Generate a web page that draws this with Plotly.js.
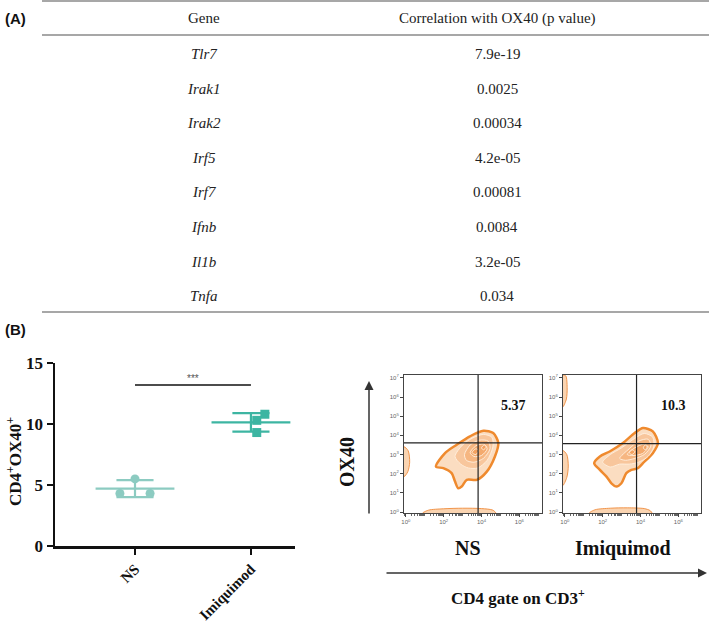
<!DOCTYPE html>
<html><head><meta charset="utf-8">
<script src="https://cdn.plot.ly/plotly-3.0.1.min.js"></script>
<style>html,body{margin:0;padding:0;background:#fff}#chart{width:709px;height:627px}</style>
</head><body><div id="chart"></div>
<script>
// ---------- Panel A table data ----------
const tableHeader = ['Gene', 'Correlation with OX40 (p value)'];
const genes = ['Tlr7', 'Irak1', 'Irak2', 'Irf5', 'Irf7', 'Ifnb', 'Il1b', 'Tnfa'];
const pvalues = ['7.9e-19', '0.0025', '0.00034', '4.2e-05', '0.00081', '0.0084', '3.2e-05', '0.034'];

// ---------- Panel B dot plot data ----------
const groups = ['NS', 'Imiquimod'];
const nsValues = [5.5, 4.3, 4.3];
const imqValues = [10.8, 10.3, 9.3];
const sigLabel = '***';
const sigLevel = 13.2;

// ---------- Flow plots (log10 exponents) ----------
const flowLabels = ['NS', 'Imiquimod'];
const flowPercents = ['5.37', '10.3'];
const gateX = [3.82, 3.79];
const gateY = [3.61, 3.57];
// NS panel contours
const nsOuterX = [1.59, 2.07, 2.69, 3.39, 4.10, 4.62, 4.89, 4.71, 4.28, 3.75, 3.22, 2.95, 2.77, 2.60, 2.42, 1.98, 1.59];
const nsOuterY = [2.37, 3.08, 3.51, 3.95, 4.24, 4.12, 3.60, 2.90, 2.11, 1.68, 1.68, 1.33, 1.24, 1.59, 2.03, 2.29, 2.37];
const nsLoopAX = [2.6, 3.0, 3.5, 4.1, 4.55, 4.6, 4.3, 3.8, 3.3, 2.9, 2.6];
const nsLoopAY = [2.9, 3.5, 3.85, 4.05, 3.9, 3.4, 2.7, 2.3, 2.3, 2.5, 2.9];
const nsLoopBX = [3.1, 3.4, 3.9, 4.35, 4.45, 4.1, 3.6, 3.2, 3.1];
const nsLoopBY = [3.0, 3.5, 3.75, 3.7, 3.3, 2.8, 2.6, 2.7, 3.0];
const nsLoopCX = [3.4, 3.7, 4.1, 4.3, 4.0, 3.6, 3.4];
const nsLoopCY = [3.1, 3.45, 3.55, 3.3, 2.95, 2.9, 3.1];
const nsLoopDX = [3.5, 3.7, 3.85, 3.7, 3.5];
const nsLoopDY = [3.1, 3.3, 3.2, 3.0, 3.1];
const nsLoopEX = [4.0, 4.15, 4.25, 4.1, 4.0];
const nsLoopEY = [3.35, 3.5, 3.4, 3.25, 3.35];
const nsBottomX = [0.9, 1.2, 2.0, 3.0, 4.0, 4.6, 4.75, 0.9];
const nsBottomY = [-0.05, 0.1, 0.17, 0.2, 0.18, 0.1, -0.05, -0.05];
const nsLeftX = [-0.1, 0.1, 0.2, 0.12, -0.1, -0.1];
const nsLeftY = [1.85, 2.1, 2.6, 3.2, 3.4, 1.85];
// Imiquimod panel contours
const imqOuterX = [1.55, 1.85, 2.37, 3.07, 3.69, 4.13, 4.65, 4.92, 4.65, 4.13, 3.86, 3.52, 3.25, 2.99, 2.73, 2.46, 2.20, 1.85, 1.55];
const imqOuterY = [2.55, 2.90, 3.16, 3.60, 4.12, 4.38, 4.21, 3.60, 3.07, 2.55, 2.29, 2.20, 2.03, 1.50, 1.33, 1.50, 1.85, 2.20, 2.55];
const imqLoopAX = [2.0, 2.4, 3.0, 3.7, 4.2, 4.65, 4.7, 4.4, 3.9, 3.4, 2.9, 2.4, 2.0];
const imqLoopAY = [2.6, 3.0, 3.35, 3.85, 4.1, 3.9, 3.4, 2.9, 2.6, 2.5, 2.5, 2.35, 2.6];
const imqLoopBX = [2.9, 3.4, 3.9, 4.4, 4.55, 4.2, 3.7, 3.2, 2.9];
const imqLoopBY = [2.8, 3.3, 3.7, 3.8, 3.45, 3.0, 2.8, 2.7, 2.8];
const imqLoopCX = [3.3, 3.7, 4.2, 4.4, 4.1, 3.6, 3.3];
const imqLoopCY = [3.0, 3.35, 3.55, 3.4, 3.05, 2.95, 3.0];
const imqLoopDX = [3.4, 3.55, 3.7, 3.55, 3.4];
const imqLoopDY = [3.1, 3.25, 3.15, 3.0, 3.1];
const imqLoopEX = [4.15, 4.25, 4.35, 4.25, 4.15];
const imqLoopEY = [3.35, 3.5, 3.4, 3.25, 3.35];
const imqBottomX = [1.3, 1.6, 2.4, 3.3, 4.2, 4.5, 4.6, 1.3];
const imqBottomY = [-0.05, 0.12, 0.2, 0.22, 0.18, 0.08, -0.05, -0.05];
const imqLeftTopX = [-0.1, 0.08, 0.12, 0.05, -0.1, -0.1];
const imqLeftTopY = [5.5, 5.9, 6.5, 7.1, 7.15, 5.5];
const imqLeftMidX = [-0.1, 0.1, 0.18, 0.1, -0.1, -0.1];
const imqLeftMidY = [1.4, 1.8, 2.4, 3.0, 3.2, 1.4];

// ---------- helpers ----------
const W = 709, H = 627;
const px = v => v / W;
const py = v => 1 - v / H;
const pow10 = arr => arr.map(v => Math.pow(10, v));
const serif = "'Liberation Serif', 'Times New Roman', serif";
const sans = "'Liberation Sans', Arial, sans-serif";
const ORANGE = '#ef8a2e';

const traces = [];
const annotations = [];
const shapes = [];
function label(x, y, text, font, extra) {
  annotations.push(Object.assign({xref:'paper', yref:'paper', x:px(x), y:py(y), xanchor:'center',
    yanchor:'middle', text:text, showarrow:false, font:font}, extra || {}));
}

// ----- Panel A table -----
label(3, 18, '<b>(A)</b>', {family:sans, size:15, color:'#111'}, {xanchor:'left'});
const colX = [204, 497];
const tableFont = {family:serif, size:15, color:'#222'};
tableHeader.forEach((h, i) => label(colX[i], 18, h, tableFont));
genes.forEach((g, i) => {
  const yy = 54 + i * 34.6;
  label(colX[0], yy, '<i>' + g + '</i>', tableFont);
  label(colX[1], yy, pvalues[i], tableFont);
});
[1, 35, 312].forEach(yy => shapes.push({type:'line', xref:'paper', yref:'paper',
  x0:px(42), x1:px(709), y0:py(yy), y1:py(yy), line:{color:'#8a8a8a', width:1.5}}));

// ----- Panel B dot plot -----
label(3, 329, '<b>(B)</b>', {family:sans, size:15, color:'#111'}, {xanchor:'left'});
const groupColors = ['#8ccbc1', '#3db5a2'];
const groupSymbols = ['circle', 'square'];
const jitter = [[0, -0.13, 0.13], [0.12, 0.05, 0.05]];
[nsValues, imqValues].forEach((vals, gi) => {
  const n = vals.length;
  const mean = vals.reduce((a, b) => a + b, 0) / n;
  const sd = Math.sqrt(vals.reduce((a, b) => a + (b - mean) * (b - mean), 0) / (n - 1));
  const c = groupColors[gi];
  traces.push({x:[gi - 0.34, gi + 0.34], y:[mean, mean], xaxis:'x', yaxis:'y', mode:'lines',
    line:{color:c, width:2.2}, hoverinfo:'skip'});
  traces.push({x:[gi, gi, null, gi - 0.16, gi + 0.16, null, gi - 0.16, gi + 0.16],
    y:[mean - sd, mean + sd, null, mean + sd, mean + sd, null, mean - sd, mean - sd],
    xaxis:'x', yaxis:'y', mode:'lines', line:{color:c, width:2.2}, hoverinfo:'skip'});
  traces.push({x:vals.map((v, i) => gi + jitter[gi][i]), y:vals, xaxis:'x', yaxis:'y', mode:'markers',
    marker:{color:c, size:9, symbol:groupSymbols[gi]}});
});
traces.push({x:[0, 1], y:[sigLevel, sigLevel], xaxis:'x', yaxis:'y', mode:'lines',
  line:{color:'#111', width:1.5}, hoverinfo:'skip'});
annotations.push({xref:'x', yref:'y', x:0.5, y:sigLevel, xanchor:'center', yanchor:'bottom', yshift:-1,
  text:sigLabel, showarrow:false, font:{family:sans, size:10, color:'#555'}});
label(14, 462, '<b>CD4<sup>+</sup>OX40<sup>+</sup></b>', {family:serif, size:17, color:'#111'}, {textangle:-90});

// ----- Flow panels -----
function addFlow(ax, ay, polys) {
  polys.forEach(p => traces.push({x:pow10(p.x), y:pow10(p.y), xaxis:ax, yaxis:ay, mode:'lines',
    fill:'toself', fillcolor:p.fill, line:{color:p.line, width:p.w, shape:'spline', smoothing:0.8},
    hoverinfo:'skip'}));
}
const outerStyle = {fill:'rgba(246,170,100,0.4)', line:ORANGE, w:2.5};
const midStyle = {fill:'rgba(240,140,60,0.28)', line:'rgba(255,238,220,0.95)', w:1};
const stripStyle = {fill:'rgba(246,170,100,0.5)', line:'rgba(240,140,60,0.9)', w:1};
addFlow('x2', 'y2', [
  Object.assign({x:nsOuterX, y:nsOuterY}, outerStyle),
  Object.assign({x:nsLoopAX, y:nsLoopAY}, midStyle),
  Object.assign({x:nsLoopBX, y:nsLoopBY}, midStyle),
  Object.assign({x:nsLoopCX, y:nsLoopCY}, midStyle),
  Object.assign({x:nsLoopDX, y:nsLoopDY}, midStyle),
  Object.assign({x:nsLoopEX, y:nsLoopEY}, midStyle),
  Object.assign({x:nsBottomX, y:nsBottomY}, stripStyle),
  Object.assign({x:nsLeftX, y:nsLeftY}, stripStyle)
]);
addFlow('x3', 'y3', [
  Object.assign({x:imqOuterX, y:imqOuterY}, outerStyle),
  Object.assign({x:imqLoopAX, y:imqLoopAY}, midStyle),
  Object.assign({x:imqLoopBX, y:imqLoopBY}, midStyle),
  Object.assign({x:imqLoopCX, y:imqLoopCY}, midStyle),
  Object.assign({x:imqLoopDX, y:imqLoopDY}, midStyle),
  Object.assign({x:imqLoopEX, y:imqLoopEY}, midStyle),
  Object.assign({x:imqBottomX, y:imqBottomY}, stripStyle),
  Object.assign({x:imqLeftTopX, y:imqLeftTopY}, stripStyle),
  Object.assign({x:imqLeftMidX, y:imqLeftMidY}, stripStyle)
]);
const axPairs = [['x2', 'y2'], ['x3', 'y3']];
axPairs.forEach((p, i) => {
  traces.push({x:pow10([gateX[i], gateX[i]]), y:pow10([-0.05, 7.15]), xaxis:p[0], yaxis:p[1], mode:'lines',
    line:{color:'#222', width:1.2}, hoverinfo:'skip'});
  traces.push({x:pow10([-0.1, 7.2]), y:pow10([gateY[i], gateY[i]]), xaxis:p[0], yaxis:p[1], mode:'lines',
    line:{color:'#222', width:1.2}, hoverinfo:'skip'});
});
const pctPos = [[513, 405], [673, 405]];
flowPercents.forEach((t, i) => label(pctPos[i][0], pctPos[i][1], '<b>' + t + '</b>',
  {family:serif, size:14, color:'#111'}));
const flowLabelX = [468, 623];
flowLabels.forEach((t, i) => label(flowLabelX[i], 548, '<b>' + t + '</b>', {family:serif, size:20, color:'#111'}));
label(347, 462, '<b>OX40</b>', {family:serif, size:20, color:'#111'}, {textangle:-90});
label(518, 597, '<b>CD4 gate on CD3<sup>+</sup></b>', {family:serif, size:17, color:'#111'});
annotations.push({xref:'paper', yref:'paper', axref:'pixel', ayref:'pixel', x:px(369), y:py(381), ax:0, ay:134,
  text:'', showarrow:true, arrowhead:2, arrowsize:1.2, arrowwidth:1.5, arrowcolor:'#333'});
annotations.push({xref:'paper', yref:'paper', axref:'pixel', ayref:'pixel', x:px(707), y:py(573), ax:-322, ay:0,
  text:'', showarrow:true, arrowhead:2, arrowsize:1.2, arrowwidth:1.5, arrowcolor:'#333'});

const decadesX = [0, 2, 4, 6];
const decadesY = [0, 1, 2, 3, 4, 5, 6, 7];
function flowX(domain, anchor) {
  return {domain:domain, anchor:anchor, type:'log', range:[-0.1, 7.2], showline:true, mirror:true,
    linecolor:'#444', linewidth:1, showgrid:false, zeroline:false, ticks:'outside', ticklen:3, tickcolor:'#444',
    tickvals:pow10(decadesX), ticktext:decadesX.map(d => '10<sup>' + d + '</sup>'),
    tickfont:{family:sans, size:6, color:'#666'},
    minor:{ticks:'outside', ticklen:2, tickcolor:'#666', dtick:'D1'}};
}
function flowY(domain, anchor) {
  return {domain:domain, anchor:anchor, type:'log', range:[-0.05, 7.15], showline:true, mirror:true,
    linecolor:'#444', linewidth:1, showgrid:false, zeroline:false, ticks:'outside', ticklen:3, tickcolor:'#444',
    tickvals:pow10(decadesY), ticktext:decadesY.map(d => '10<sup>' + d + '</sup>'),
    tickfont:{family:sans, size:6, color:'#666'}};
}

const layout = {
  width:W, height:H, margin:{l:0, r:0, t:0, b:0}, showlegend:false,
  paper_bgcolor:'#fff', plot_bgcolor:'rgba(0,0,0,0)',
  xaxis:{domain:[px(55), px(295)], anchor:'y', range:[-0.69, 1.38], tickmode:'array', tickvals:[0, 1],
    ticktext:groups, tickangle:-45, ticks:'outside', ticklen:6, tickwidth:2, tickcolor:'#111',
    showline:true, linewidth:2.5, linecolor:'#111', showgrid:false, zeroline:false,
    tickfont:{family:serif, size:15, color:'#111', weight:'bold'}},
  yaxis:{domain:[py(546), py(363)], anchor:'x', range:[0, 15], dtick:5, ticks:'outside', ticklen:6,
    tickwidth:2, tickcolor:'#111', showline:true, linewidth:2.5, linecolor:'#111', showgrid:false,
    zeroline:false, tickfont:{family:serif, size:17, color:'#111', weight:'bold'}},
  xaxis2:flowX([px(404), px(542)], 'y2'),
  yaxis2:flowY([py(513), py(375)], 'x2'),
  xaxis3:flowX([px(563), px(701)], 'y3'),
  yaxis3:flowY([py(513), py(375)], 'x3'),
  annotations:annotations, shapes:shapes
};
Plotly.newPlot('chart', traces, layout, {staticPlot:true, displayModeBar:false});
</script></body></html>
